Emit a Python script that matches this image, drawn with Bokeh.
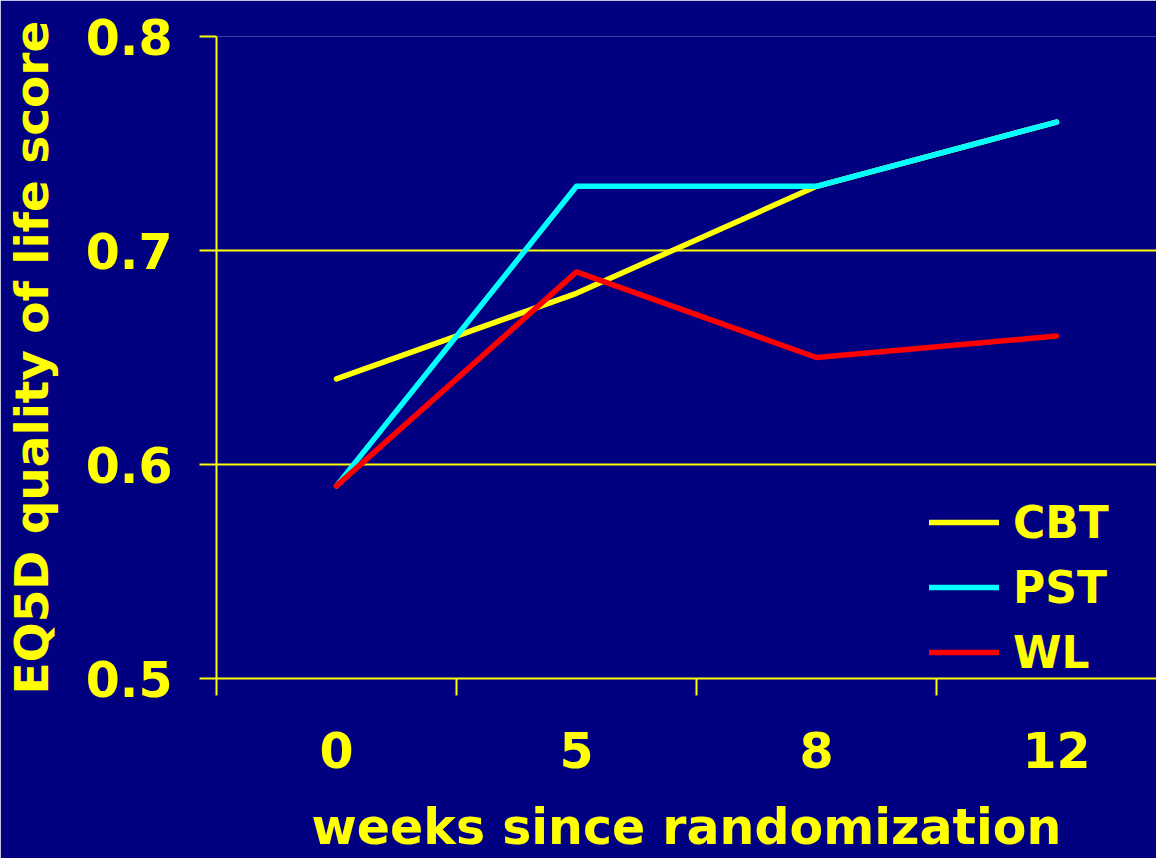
from bokeh.plotting import figure
from bokeh.models import Range1d, FixedTicker, Legend, LegendItem
from bokeh.embed import file_html
from bokeh.resources import INLINE

weeks = ["0", "5", "8", "12"]
cbt = [0.64, 0.68, 0.73, 0.76]
pst = [0.59, 0.73, 0.73, 0.76]
wl = [0.59, 0.69, 0.65, 0.66]
y_ticks = [0.5, 0.6, 0.7, 0.8]

BG = "#000080"
YEL = "#FFFF00"
FONT = "DejaVu Sans"

xs = [i + 0.5 for i in range(len(weeks))]

p = figure(width=1156, height=858, output_backend="svg", toolbar_location=None,
           x_range=Range1d(0, 940 / 240), y_range=Range1d(0.5, 0.8))
p.min_border_left = 216
p.min_border_right = 0
p.min_border_top = 36
p.min_border_bottom = 180
p.background_fill_color = BG
p.border_fill_color = BG
p.outline_line_color = None

r1 = p.line(xs, cbt, line_color=YEL, line_width=5.5, line_cap="round", line_join="round")
r2 = p.line(xs, pst, line_color="#00FFFF", line_width=5.5, line_cap="round", line_join="round")
r3 = p.line(xs, wl, line_color="#FF0000", line_width=5.5, line_cap="round", line_join="round")

# x axis
xa = p.xaxis[0]
xa.ticker = FixedTicker(ticks=xs, minor_ticks=list(range(len(weeks) + 1)))
xa.major_label_overrides = {x: w for x, w in zip(xs, weeks)}
xa.major_tick_line_color = None
xa.major_tick_out = 0
xa.major_tick_in = 0
xa.minor_tick_out = 17
xa.minor_tick_in = 0
xa.minor_tick_line_color = YEL
xa.minor_tick_line_width = 2
xa.axis_line_color = YEL
xa.axis_line_width = 2
xa.major_label_text_color = YEL
xa.major_label_text_font = FONT
xa.major_label_text_font_style = "bold"
xa.major_label_text_font_size = "49px"
xa.major_label_standoff = 36
xa.axis_label = "weeks since randomization"
xa.axis_label_text_color = YEL
xa.axis_label_text_font = FONT
xa.axis_label_text_font_style = "bold"
xa.axis_label_text_font_size = "49px"
xa.axis_label_standoff = 28

# y axis
ya = p.yaxis[0]
ya.ticker = FixedTicker(ticks=y_ticks)
ya.major_label_overrides = {v: f"{v:.1f}" for v in y_ticks}
ya.major_tick_out = 17
ya.major_tick_in = 0
ya.major_tick_line_color = YEL
ya.major_tick_line_width = 2
ya.minor_tick_line_color = None
ya.axis_line_color = YEL
ya.axis_line_width = 2
ya.major_label_text_color = YEL
ya.major_label_text_font = FONT
ya.major_label_text_font_style = "bold"
ya.major_label_text_font_size = "49px"
ya.major_label_standoff = 27
ya.axis_label = "EQ5D quality of life score"
ya.axis_label_text_color = YEL
ya.axis_label_text_font = FONT
ya.axis_label_text_font_style = "bold"
ya.axis_label_text_font_size = "47px"
ya.axis_label_standoff = 24

p.xgrid.grid_line_color = None
p.ygrid.ticker = FixedTicker(ticks=y_ticks)
p.ygrid.grid_line_color = YEL
p.ygrid.grid_line_width = 2

legend = Legend(items=[LegendItem(label="CBT", renderers=[r1]),
                       LegendItem(label="PST", renderers=[r2]),
                       LegendItem(label="WL", renderers=[r3])],
                location=(713, 0))
legend.background_fill_alpha = 0
legend.border_line_color = None
legend.padding = 0
legend.margin = 0
legend.label_text_color = YEL
legend.label_text_font = FONT
legend.label_text_font_style = "bold"
legend.label_text_font_size = "44px"
legend.glyph_width = 70
legend.glyph_height = 52
legend.label_height = 52
legend.spacing = 13
legend.label_standoff = 14
p.add_layout(legend)

open("out.html", "w").write(file_html(p, INLINE))
